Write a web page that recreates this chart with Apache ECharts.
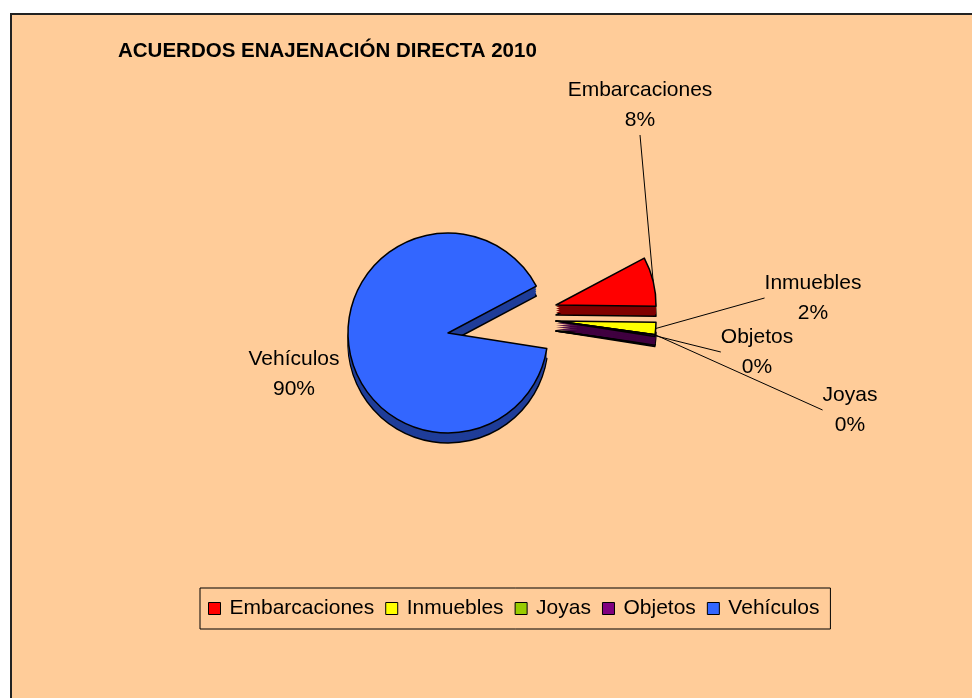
<!DOCTYPE html>
<html>
<head>
<meta charset="utf-8">
<script src="https://cdn.jsdelivr.net/npm/echarts@6/dist/echarts.min.js"></script>
<style>
  html, body { margin: 0; background: #fff; }
  #frame { position: absolute; left: 10px; top: 13px; width: 980px; height: 700px; background: #ffcc99; border: 2px solid #222; box-sizing: border-box; }
  #chart { position: absolute; left: 0; top: 0; width: 972px; height: 698px; }
</style>
</head>
<body>
<div id="frame"></div>
<div id="chart"></div>
<script>
const categories = ['Embarcaciones', 'Inmuebles', 'Joyas', 'Objetos', 'Vehículos'];
const values = [8, 2, 0, 0.3, 90];
const colors = ['#ff0000', '#ffff00', '#99cc00', '#800080', '#3366ff'];
const sideColors = ['#800000', '#400040', '#4d7a00', '#400040', '#1f3d99'];

const font = '"Liberation Sans", Arial, sans-serif';
const center = [448, 333];
const radius = 100;

// exploded groups: how far each group is pulled out of the pie
const groups = [[0, 0], [108, -28], [108, -12]];
const groupOf = name => name === 'Vehículos' ? 0 : name === 'Embarcaciones' ? 1 : 2;

// where Excel put each data label (centre of the two-line label)
const labelSpots = {
    Embarcaciones: [640, 105],
    Inmuebles: [813, 298],
    Objetos: [757, 352],
    Joyas: [850, 410],
    'Vehículos': [294, 374]
};

const slices = (g, dy, palette, top) => ({
    type: 'pie',
    z: top ? 3 : 2,
    center: [center[0] + groups[g][0], center[1] + groups[g][1] + dy],
    radius: radius,
    startAngle: 28,
    clockwise: true,
    silent: true,
    animation: false,
    avoidLabelOverlap: false,
    emphasis: { disabled: true },
    data: categories.map((name, i) => {
        const own = groupOf(name) === g;
        return {
            name,
            value: values[i],
            itemStyle: own
                ? { color: palette[i], borderColor: '#000', borderWidth: top || dy === 10 ? 1.5 : 0 }
                : { color: 'transparent', borderWidth: 0 },
            label: { show: top && own },
            labelLine: { show: top && own && name !== 'Vehículos' }
        };
    }),
    label: {
        color: '#000',
        fontFamily: font,
        fontSize: 21,
        lineHeight: 30,
        formatter: p => p.name + '\n' + Math.round(p.percent) + '%'
    },
    labelLine: { length: 10, length2: 0, lineStyle: { color: '#000', width: 1 } },
    labelLayout: top ? params => {
        const spot = labelSpots[categories[params.dataIndex]];
        return { x: spot[0], y: spot[1], align: 'center', verticalAlign: 'middle' };
    } : undefined
});

const series = [];
[10, 8, 6, 4, 2].forEach(d => groups.forEach((_, g) => series.push(slices(g, d, sideColors, false))));
groups.forEach((_, g) => series.push(slices(g, 0, colors, true)));

const chart = echarts.init(document.getElementById('chart'));
chart.setOption({
    backgroundColor: 'transparent',
    title: {
        text: 'ACUERDOS ENAJENACIÓN DIRECTA 2010',
        left: 118,
        top: 41,
        padding: 0,
        textStyle: { fontFamily: font, fontSize: 20.5, fontWeight: 'bold', color: '#000' }
    },
    legend: {
        data: categories.map((name, i) => ({ name, itemStyle: { color: colors[i] } })),
        left: 200,
        top: 588,
        icon: 'rect',
        itemWidth: 12,
        itemHeight: 12,
        itemGap: 11,
        padding: [10, 11, 10, 8],
        borderColor: '#000',
        borderWidth: 1,
        selectedMode: false,
        itemStyle: { borderColor: '#000', borderWidth: 1 },
        textStyle: { fontFamily: font, fontSize: 21, color: '#000', padding: [0, 0, 0, 4] }
    },
    series: series
});
</script>
</body>
</html>
